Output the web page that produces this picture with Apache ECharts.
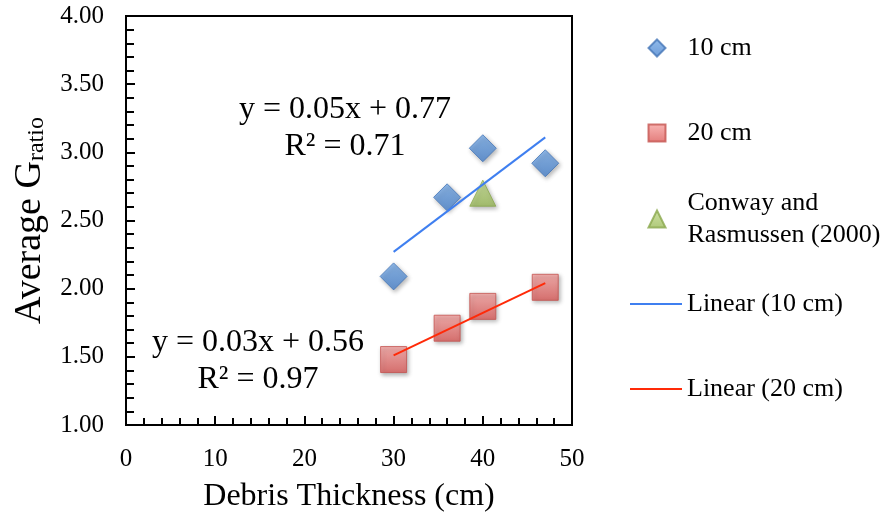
<!DOCTYPE html>
<html>
<head>
<meta charset="utf-8">
<script src="https://cdn.jsdelivr.net/npm/echarts@6/dist/echarts.min.js"></script>
<style>
  html, body { margin: 0; padding: 0; background: #fff; }
  #chart { width: 885px; height: 518px; }
</style>
</head>
<body>
<div id="chart"></div>
<script>
// values
var thickness = [30, 36, 40, 47];
var gratio10 = [2.09, 2.67, 3.03, 2.92];
var gratio20 = [1.48, 1.71, 1.87, 2.01];
var conwayX = [40];
var conwayY = [2.70];
// trendline end points (Excel linear fit)
var trendX = [30, 47];
var trend10 = [2.27, 3.11];
var trend20 = [1.51, 2.04];
var eq10 = ['y = 0.05x + 0.77', 'R² = 0.71'];
var eq20 = ['y = 0.03x + 0.56', 'R² = 0.97'];

var font = 'Liberation Serif';

function pairs(xs, ys) {
  var out = [];
  for (var i = 0; i < xs.length; i++) out.push([xs[i], ys[i]]);
  return out;
}

function grad(top, bottom) {
  return new echarts.graphic.LinearGradient(0, 0, 0, 1, [
    { offset: 0, color: top },
    { offset: 1, color: bottom }
  ]);
}

var shadow = {
  shadowBlur: 4,
  shadowColor: 'rgba(0,0,0,0.35)',
  shadowOffsetX: 1.5,
  shadowOffsetY: 2
};

// one legend block per entry so each can sit where the picture has it
function legendAt(item, top, isLine, extraText) {
  var ts = { fontFamily: font, fontSize: 26, lineHeight: 26, color: '#000' };
  if (!isLine) ts.padding = [0, 0, 0, 17];
  if (extraText) ts = Object.assign(ts, extraText);
  return {
    data: [item],
    orient: 'vertical',
    left: isLine ? 630 : 647.5,
    top: top,
    padding: 0,
    itemWidth: isLine ? 52 : 17,
    itemHeight: isLine ? 2 : 17,
    selectedMode: false,
    textStyle: ts,
    formatter: function (n) {
      return n === 'Conway and Rasmussen (2000)' ? 'Conway and\nRasmussen (2000)' : n;
    }
  };
}

// tick style, a fresh object each time
function tick(len) {
  return { show: true, inside: true, length: len, lineStyle: { color: '#000', width: 2 } };
}

var chart = echarts.init(document.getElementById('chart'));

var option = {
  animation: false,
  backgroundColor: '#fff',
  grid: {
    left: 126, top: 16, right: 313, bottom: 93,
    show: true, borderColor: '#000', borderWidth: 2
  },
  legend: [
    legendAt('10 cm', 35, false),
    legendAt('20 cm', 120, false),
    legendAt('Conway and Rasmussen (2000)', 171, false, { lineHeight: 32, padding: [32, 0, 0, 17] }),
    legendAt({ name: 'Linear (10 cm)', icon: 'rect' }, 291, true),
    legendAt({ name: 'Linear (20 cm)', icon: 'rect' }, 376, true)
  ],
  xAxis: {
    type: 'value',
    min: 0, max: 50, interval: 10,
    name: 'Debris Thickness (cm)',
    nameLocation: 'middle',
    nameGap: 56,
    nameTextStyle: { fontFamily: font, fontSize: 32, color: '#000' },
    axisLine: { show: true, lineStyle: { color: '#000', width: 2 } },
    axisTick: tick(9),
    minorTick: Object.assign(tick(7), { splitNumber: 5 }),
    axisLabel: { fontFamily: font, fontSize: 25, color: '#000', margin: 22 },
    splitLine: { show: false }
  },
  yAxis: {
    type: 'value',
    min: 1, max: 4, interval: 0.5,
    name: '{a|Average G}{b|ratio}',
    nameLocation: 'middle',
    nameRotate: 90,
    nameGap: 76,
    nameTextStyle: {
      rich: {
        a: { fontFamily: font, fontSize: 38, color: '#000' },
        b: { fontFamily: font, fontSize: 24, color: '#000', padding: [12, 0, 0, 0] }
      }
    },
    axisLine: { show: true, lineStyle: { color: '#000', width: 2 } },
    axisTick: tick(9),
    minorTick: Object.assign(tick(8), { splitNumber: 5 }),
    axisLabel: {
      fontFamily: font, fontSize: 25, color: '#000', margin: 22,
      formatter: function (v) { return v.toFixed(2); }
    },
    splitLine: { show: false }
  },
  series: [
    {
      name: '10 cm',
      type: 'scatter',
      symbol: 'diamond',
      symbolSize: 27,
      data: pairs(thickness, gratio10),
      itemStyle: Object.assign({
        color: grad('#76aae6', '#4a84cf'),
        borderColor: '#4677b8', borderWidth: 1
      }, shadow)
    },
    {
      name: '20 cm',
      type: 'scatter',
      symbol: 'rect',
      symbolSize: 26,
      data: pairs(thickness, gratio20),
      itemStyle: Object.assign({
        color: grad('#f7a3a1', '#dc5c5a'),
        borderColor: '#c4524f', borderWidth: 1
      }, shadow)
    },
    {
      name: 'Conway and Rasmussen (2000)',
      type: 'scatter',
      symbol: 'triangle',
      symbolSize: 26,
      data: pairs(conwayX, conwayY),
      itemStyle: Object.assign({
        color: grad('#c2db8c', '#9bbb59'),
        borderColor: '#8aa84c', borderWidth: 1
      }, shadow)
    },
    {
      name: 'Linear (10 cm)',
      type: 'line',
      symbol: 'none',
      data: pairs(trendX, trend10),
      lineStyle: { color: '#3f7ff0', width: 2 },
      itemStyle: { color: '#3f7ff0' }
    },
    {
      name: 'Linear (20 cm)',
      type: 'line',
      symbol: 'none',
      data: pairs(trendX, trend20),
      lineStyle: { color: '#ff2a08', width: 2 },
      itemStyle: { color: '#ff2a08' }
    }
  ]
};

// trendline equations as plain text blocks
function eqText(lines, cx, cy) {
  return {
    type: 'text',
    x: cx,
    y: cy,
    style: {
      text: lines.join('\n'),
      fontFamily: font,
      fontSize: 32,
      lineHeight: 37,
      fill: '#000',
      align: 'center',
      verticalAlign: 'middle'
    }
  };
}
option.graphic = [
  eqText(eq10, 345, 128),
  eqText(eq20, 258, 361)
];

chart.setOption(option);
</script>
</body>
</html>
